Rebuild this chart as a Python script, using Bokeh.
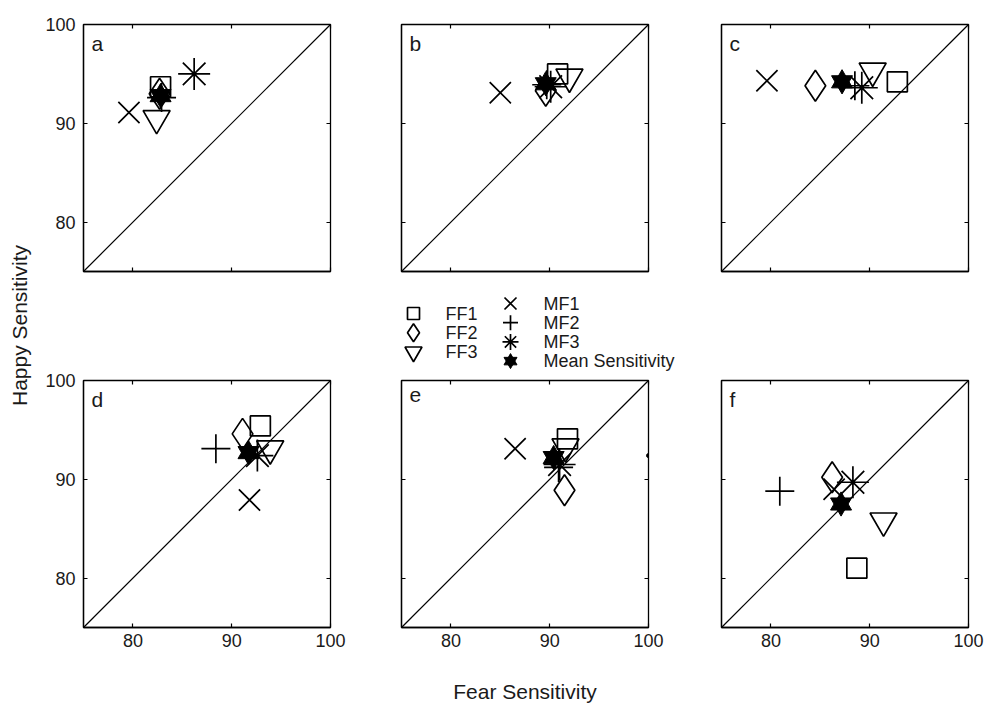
from bokeh.plotting import figure
from bokeh.layouts import row, column
from bokeh.models import (Range1d, FixedTicker, LinearAxis, Slope, Label, Title)
from bokeh.embed import file_html
from bokeh.resources import INLINE

FONT = "Liberation Sans"

panel_letters = ["a", "b", "c", "d", "e", "f"]
tick_values = [80, 90, 100]

# Fear sensitivity (x) and Happy sensitivity (y), one value per panel a..f
ff1_x = [82.8, 90.8, 92.8, 92.9, 91.8, 88.7]
ff1_y = [93.7, 95.0, 94.2, 95.4, 94.1, 81.0]
ff2_x = [82.7, 89.6, 84.5, 91.1, 91.5, 86.2]
ff2_y = [93.0, 93.3, 93.8, 94.6, 88.9, 90.2]
ff3_x = [82.4, 92.0, 90.3, 93.9, 91.6, 91.4]
ff3_y = [90.5, 94.7, 95.3, 93.1, 93.3, 85.8]
mf1_x = [79.6, 85.0, 79.6, 91.8, 86.5, 86.4]
mf1_y = [91.1, 93.1, 94.3, 87.9, 93.1, 89.0]
mf2_x = [82.9, 89.7, 88.5, 88.4, 90.9, 80.9]
mf2_y = [92.6, 93.9, 93.8, 93.1, 91.2, 88.8]
mf3_x = [86.2, 90.1, 89.2, 92.6, 91.0, 88.3]
mf3_y = [95.0, 93.7, 93.6, 92.4, 91.5, 89.7]
mean_x = [82.8, 89.6, 87.2, 91.7, 90.4, 87.1]
mean_y = [92.8, 94.0, 94.2, 92.7, 92.2, 87.5]
# stray point at the right edge of panel e
e_dot_x = [100.0]
e_dot_y = [92.4]

ff_names = ["FF1", "FF2", "FF3"]
mf_names = ["MF1", "MF2", "MF3", "Mean Sensitivity"]

series = [
    ("FF1", ff1_x, ff1_y),
    ("FF2", ff2_x, ff2_y),
    ("FF3", ff3_x, ff3_y),
    ("MF1", mf1_x, mf1_y),
    ("MF2", mf2_x, mf2_y),
    ("MF3", mf3_x, mf3_y),
]
# (marker, size in panels, size in legend)
marker_style = {
    "FF1": ("square", 20, 12),
    "FF2": ("diamond", 31, 18),
    "FF3": ("inverted_triangle", 27, 17),
    "MF1": ("x", 30, 17),
    "MF2": ("cross", 29, 15),
    "MF3": ("asterisk", 32, 16),
}
MEAN_SIZE = 21
MEAN_LEG_SIZE = 13
LW = 1.7


def style_axis(ax, show_labels, standoff):
    ax.ticker = FixedTicker(ticks=tick_values)
    ax.major_tick_in = 4
    ax.major_tick_out = 0
    ax.minor_tick_line_color = None
    ax.major_tick_line_color = "black"
    ax.major_tick_line_width = 1.2
    ax.axis_line_color = "black"
    ax.axis_line_width = 1.3
    ax.major_label_text_font = FONT
    if show_labels:
        ax.major_label_text_color = "#1a1a1a"
        ax.major_label_text_font_size = "18px"
        ax.major_label_standoff = standoff
    else:
        ax.major_label_text_color = None
        ax.major_label_text_font_size = "1px"
        ax.major_label_standoff = 0


# borders (left, right, top, bottom) of each panel figure
borders = {
    0: (45, 20, 24, 10), 1: (51, 30, 24, 10), 2: (43, 17, 24, 10),
    3: (45, 20, 99, 40), 4: (51, 30, 5, 81), 5: (43, 17, 99, 40),
}


def make_panel(k):
    rowi, col = divmod(k, 3)
    left_b, right_b, top_b, bottom_b = borders[k]
    p = figure(frame_width=247, frame_height=247,
               x_range=Range1d(75, 100), y_range=Range1d(75, 100),
               output_backend="svg", toolbar_location=None,
               min_border_left=left_b, min_border_right=right_b,
               min_border_top=top_b, min_border_bottom=bottom_b,
               background_fill_color="white", border_fill_color="white")
    p.grid.visible = False
    p.outline_line_color = "black"
    p.outline_line_width = 1.3
    bottom_ax = p.xaxis[0]
    left_ax = p.yaxis[0]
    style_axis(bottom_ax, rowi == 1, 6)
    style_axis(left_ax, col == 0, 8)
    top_ax = LinearAxis()
    style_axis(top_ax, False, 0)
    top_ax.axis_line_color = None
    right_ax = LinearAxis()
    style_axis(right_ax, False, 0)
    right_ax.axis_line_color = None
    p.add_layout(top_ax, "above")
    p.add_layout(right_ax, "right")
    if rowi == 1 and col == 1:
        bottom_ax.axis_label = "Fear Sensitivity"
        bottom_ax.axis_label_text_font = FONT
        bottom_ax.axis_label_text_font_size = "21px"
        bottom_ax.axis_label_text_font_style = "normal"
        bottom_ax.axis_label_text_color = "#1a1a1a"
        bottom_ax.axis_label_standoff = 30

    p.add_layout(Slope(gradient=1, y_intercept=0, line_color="black", line_width=1.2))

    for name, xs, ys in series:
        mk, sz, _ = marker_style[name]
        p.scatter([xs[k]], [ys[k]], marker=mk, size=sz, fill_color=None,
                  line_color="black", line_width=LW)
    p.scatter([mean_x[k]], [mean_y[k]], marker="triangle", size=MEAN_SIZE,
              fill_color="black", line_color="black", line_width=1)
    p.scatter([mean_x[k]], [mean_y[k]], marker="inverted_triangle", size=MEAN_SIZE,
              fill_color="black", line_color="black", line_width=1)
    if panel_letters[k] == "e":
        p.scatter(e_dot_x, e_dot_y, marker="circle", size=4,
                  fill_color="black", line_color="black")

    p.add_layout(Label(x=8, y=240, x_units="screen", y_units="screen",
                       text=panel_letters[k], text_font=FONT,
                       text_font_size="21px", text_baseline="top",
                       text_color="#1a1a1a"))
    return p


panels = [make_panel(k) for k in range(6)]

# legend strip under panel b; ranges are pixel offsets from the strip's
# left / bottom edge
LEG_W, LEG_H = 51 + 247 + 30, 94
lf = figure(width=LEG_W, height=LEG_H, x_range=Range1d(0, LEG_W), y_range=Range1d(0, LEG_H),
            output_backend="svg", toolbar_location=None,
            x_axis_type=None, y_axis_type=None, min_border=0)
lf.grid.visible = False
lf.outline_line_color = None

STEP = 19.2
ff_gx, ff_tx, ff_y0 = 63, 95, 62
mf_gx, mf_tx, mf_y0 = 160, 193, 72


def legend_text(x, y, txt):
    lf.add_layout(Label(x=x, y=y, text=txt, text_font=FONT, text_font_size="18px",
                        text_baseline="middle", text_align="left", text_color="#1a1a1a"))


for i, name in enumerate(ff_names):
    mk, _, lsz = marker_style[name]
    yy = ff_y0 - i * STEP
    lf.scatter([ff_gx], [yy], marker=mk, size=lsz, fill_color=None,
               line_color="black", line_width=1.7)
    legend_text(ff_tx, yy, name)
for i, name in enumerate(mf_names):
    yy = mf_y0 - i * STEP
    if name in marker_style:
        mk, _, lsz = marker_style[name]
        lf.scatter([mf_gx], [yy], marker=mk, size=lsz, fill_color=None,
                   line_color="black", line_width=1.7)
    else:
        lf.scatter([mf_gx], [yy], marker="triangle", size=MEAN_LEG_SIZE,
                   fill_color="black", line_color="black", line_width=1)
        lf.scatter([mf_gx], [yy], marker="inverted_triangle", size=MEAN_LEG_SIZE,
                   fill_color="black", line_color="black", line_width=1)
    legend_text(mf_tx, yy, name)

# y label figure
yf = figure(width=38, height=650, x_range=Range1d(0, 1), y_range=Range1d(0, 1),
            output_backend="svg", toolbar_location=None,
            x_axis_type=None, y_axis_type=None, min_border=0, min_border_left=6)
yf.grid.visible = False
yf.outline_line_color = None
yf.add_layout(Title(text="Happy Sensitivity", align="center", text_font=FONT,
                    text_font_size="21px", text_font_style="normal",
                    text_color="#1a1a1a"), "left")

col1 = column(panels[0], panels[3])
col2 = column(panels[1], row(lf), panels[4])
col3 = column(panels[2], panels[5])
layout = row(yf, col1, col2, col3)

open("out.html", "w").write(file_html(layout, INLINE))
